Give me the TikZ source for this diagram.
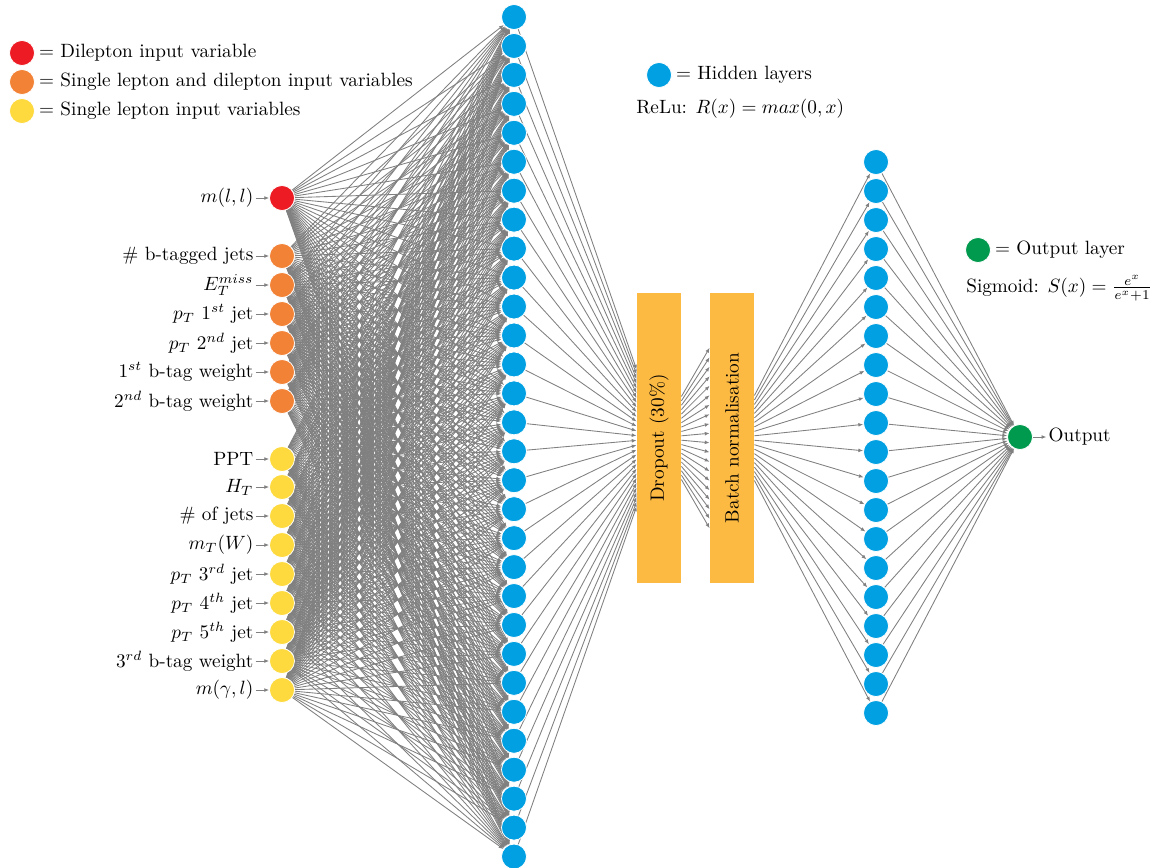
\documentclass[tikz,border=0pt]{standalone}
\usepackage{tikz}
\usetikzlibrary{arrows.meta,positioning,calc,backgrounds}

\definecolor{dilep}{RGB}{237,28,36}
\definecolor{both}{RGB}{242,130,54}
\definecolor{single}{RGB}{254,218,62}
\definecolor{hidden}{RGB}{0,160,226}
\definecolor{outgreen}{RGB}{0,154,78}
\definecolor{layerfill}{RGB}{253,186,66}

\begin{document}
\begin{tikzpicture}[
  x=0.52pt, y=-0.52pt,
  neuron/.style={circle,draw=white,line width=0.4pt,minimum size=13pt,inner sep=0pt},
  hid/.style={neuron,fill=hidden},
  layerbox/.style={fill=layerfill,minimum width=22.9pt,minimum height=150.8pt,inner sep=0pt},
  lbl/.style={inner sep=0pt},
  legtext/.style={inner sep=1pt,anchor=west},
  link/.style={gray,line width=0.45pt,-{Latex[length=2.5pt,width=2pt]}}
]
\useasboundingbox (0,0) rectangle (1159,867);

% legend
\node[neuron,fill=dilep] (legdilep) at (22,53) {};
\node[legtext,right=1pt of legdilep] {= Dilepton input variable};
\node[neuron,fill=both] (legboth) at (22,82) {};
\node[legtext,right=1pt of legboth] {= Single lepton and dilepton input variables};
\node[neuron,fill=single] (legsingle) at (22,111) {};
\node[legtext,right=1pt of legsingle] {= Single lepton input variables};

\node[neuron,fill=hidden] (leghid) at (659,75) {};
\node[legtext,right=1pt of leghid] {= Hidden layers};
\node[legtext] at (634,109) {ReLu: $R(x) = max(0,x)$};

\node[neuron,fill=outgreen] (legout) at (978,250) {};
\node[legtext,right=1pt of legout] {= Output layer};
\node[legtext] at (964,288) {Sigmoid: $S(x) = \frac{e^x}{e^x+1}$};

% input layer
\foreach \y/\col/\txt [count=\i] in {
  198/dilep/{$m(l,l)$},
  256/both/{\# b-tagged jets},
  285/both/{$E_T^{miss}$},
  314/both/{$p_T$ $1^{st}$ jet},
  343/both/{$p_T$ $2^{nd}$ jet},
  372/both/{$1^{st}$ b-tag weight},
  401/both/{$2^{nd}$ b-tag weight},
  459/single/{PPT},
  487/single/{$H_T$},
  516/single/{\# of jets},
  545/single/{$m_T(W)$},
  574/single/{$p_T$ $3^{rd}$ jet},
  603/single/{$p_T$ $4^{th}$ jet},
  632/single/{$p_T$ $5^{th}$ jet},
  661/single/{$3^{rd}$ b-tag weight},
  690/single/{$m(\gamma,l)$}}
{
  \node[neuron,fill=\col] (in\i) at (282,\y) {};
  \node[lbl,left=8pt of in\i] (lab\i) {\txt};
  \draw[link] ([xshift=1pt]lab\i.east) -- (in\i);
}

% hidden layers
\foreach \i in {1,...,30}
  \node[hid] (h\i) at (514,{17+28.95*(\i-1)}) {};
\foreach \i in {1,...,20}
  \node[hid] (g\i) at (876,{162+29*(\i-1)}) {};

% dropout and batch normalisation
\node[layerbox] (drop) at (659,438) {\rotatebox{90}{Dropout (30\%)}};
\node[layerbox] (bnorm) at (732,438) {\rotatebox{90}{Batch normalisation}};

% output
\node[neuron,fill=outgreen] (out) at (1020,437) {};
\node[lbl,right=8pt of out] (outlab) {Output};
\draw[link] (out) -- ([xshift=-1pt]outlab.west);

\begin{scope}[on background layer]
\foreach \i in {1,...,16}
  \foreach \j in {1,...,30}
    \draw[link] (in\i) -- (h\j);
\foreach \j in {1,...,30}
  \draw[link] (h\j) -- ($(drop.west)+(0,{(\j-15.5)*4.72})$);
\foreach \k in {1,...,20}
{
  \draw[link] ($(drop.east)+(0,{(\k-10.5)*4.37})$) -- ($(bnorm.west)+(0,{(\k-10.5)*9.5})$);
  \draw[link] ($(bnorm.east)+(0,{(\k-10.5)*4.47})$) -- (g\k);
  \draw[link] (g\k) -- (out);
}
\end{scope}
\end{tikzpicture}
\end{document}
